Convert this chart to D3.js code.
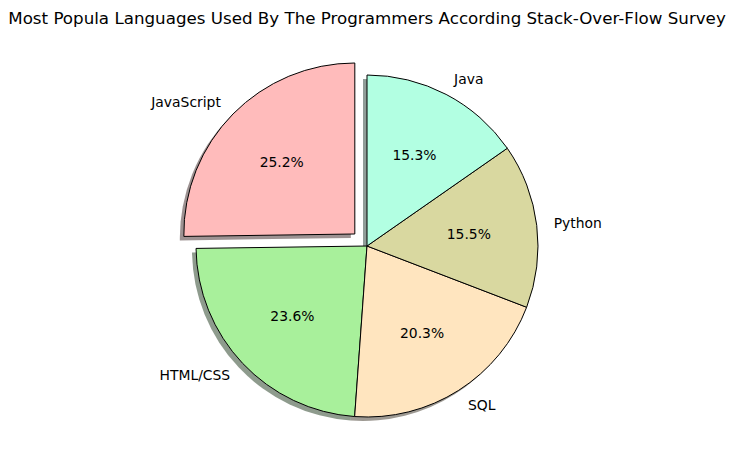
<!DOCTYPE html>
<html>
<head>
<meta charset="utf-8">
<script src="https://cdn.jsdelivr.net/npm/d3@7"></script>
<style>
  body { margin: 0; background: #fff; }
  text { font-family: "DejaVu Sans", sans-serif; fill: #000; }
</style>
</head>
<body>
<svg id="chart" width="734" height="470"></svg>
<script>
// survey shares
const languages = ["JavaScript", "HTML/CSS", "SQL", "Python", "Java"];
const shares = [25.2, 23.6, 20.3, 15.5, 15.3];
const colors = ["#ffbbbb", "#a8f09b", "#ffe5bf", "#d9d8a0", "#b2ffe2"];
const explode = [0.1, 0, 0, 0, 0];

const svg = d3.select("#chart");
const cx = 367, cy = 246, R = 171;

svg.append("text")
  .attr("x", cx).attr("y", 24)
  .attr("text-anchor", "middle")
  .style("font-size", "16.7px")
  .text("Most Popula Languages Used By The Programmers According Stack-Over-Flow Survey");

const data = languages.map((l, i) => ({ name: l, value: shares[i], color: colors[i], ex: explode[i] }));

// start at 12 o'clock, go counterclockwise like matplotlib startangle=90
const pie = d3.pie().sort(null).value(d => d.value).startAngle(0).endAngle(-2 * Math.PI);
const arcs = pie(data);
const arc = d3.arc().innerRadius(0).outerRadius(R);

const pt = (a, r) => [Math.sin(a) * r, -Math.cos(a) * r];

arcs.forEach(a => {
  const mid = (a.startAngle + a.endAngle) / 2;
  const off = pt(mid, a.data.ex * R);
  a.cx = cx + off[0];
  a.cy = cy + off[1];
  a.mid = mid;
});

const g = svg.append("g");

// shadows first
g.selectAll("path.shadow")
  .data(arcs)
  .join("path")
  .attr("class", "shadow")
  .attr("transform", d => `translate(${d.cx - 4},${d.cy + 4})`)
  .attr("d", arc)
  .attr("fill", d => { const c = d3.rgb(d.data.color); return d3.rgb(c.r * 0.3, c.g * 0.3, c.b * 0.3); })
  .attr("fill-opacity", 0.55)
  .attr("stroke", "none");

g.selectAll("path.wedge")
  .data(arcs)
  .join("path")
  .attr("class", "wedge")
  .attr("transform", d => `translate(${d.cx},${d.cy})`)
  .attr("d", arc)
  .attr("fill", d => d.data.color)
  .attr("stroke", "#000")
  .attr("stroke-width", 1)
  .attr("stroke-linejoin", "round");

// outer labels
g.selectAll("text.lab")
  .data(arcs)
  .join("text")
  .attr("class", "lab")
  .each(function(d) {
    const p = pt(d.mid, 1.1 * R);
    d3.select(this)
      .attr("x", d.cx + p[0])
      .attr("y", d.cy + p[1])
      .attr("text-anchor", p[0] < 0 ? "end" : "start");
  })
  .attr("dominant-baseline", "central")
  .style("font-size", "13.9px")
  .text(d => d.data.name);

// percentages
const total = d3.sum(shares);
g.selectAll("text.pct")
  .data(arcs)
  .join("text")
  .attr("class", "pct")
  .each(function(d) {
    const p = pt(d.mid, 0.6 * R);
    d3.select(this).attr("x", d.cx + p[0]).attr("y", d.cy + p[1]);
  })
  .attr("text-anchor", "middle")
  .attr("dominant-baseline", "central")
  .style("font-size", "13.9px")
  .text(d => (d.data.value / total * 100).toFixed(1) + "%");
</script>
</body>
</html>
